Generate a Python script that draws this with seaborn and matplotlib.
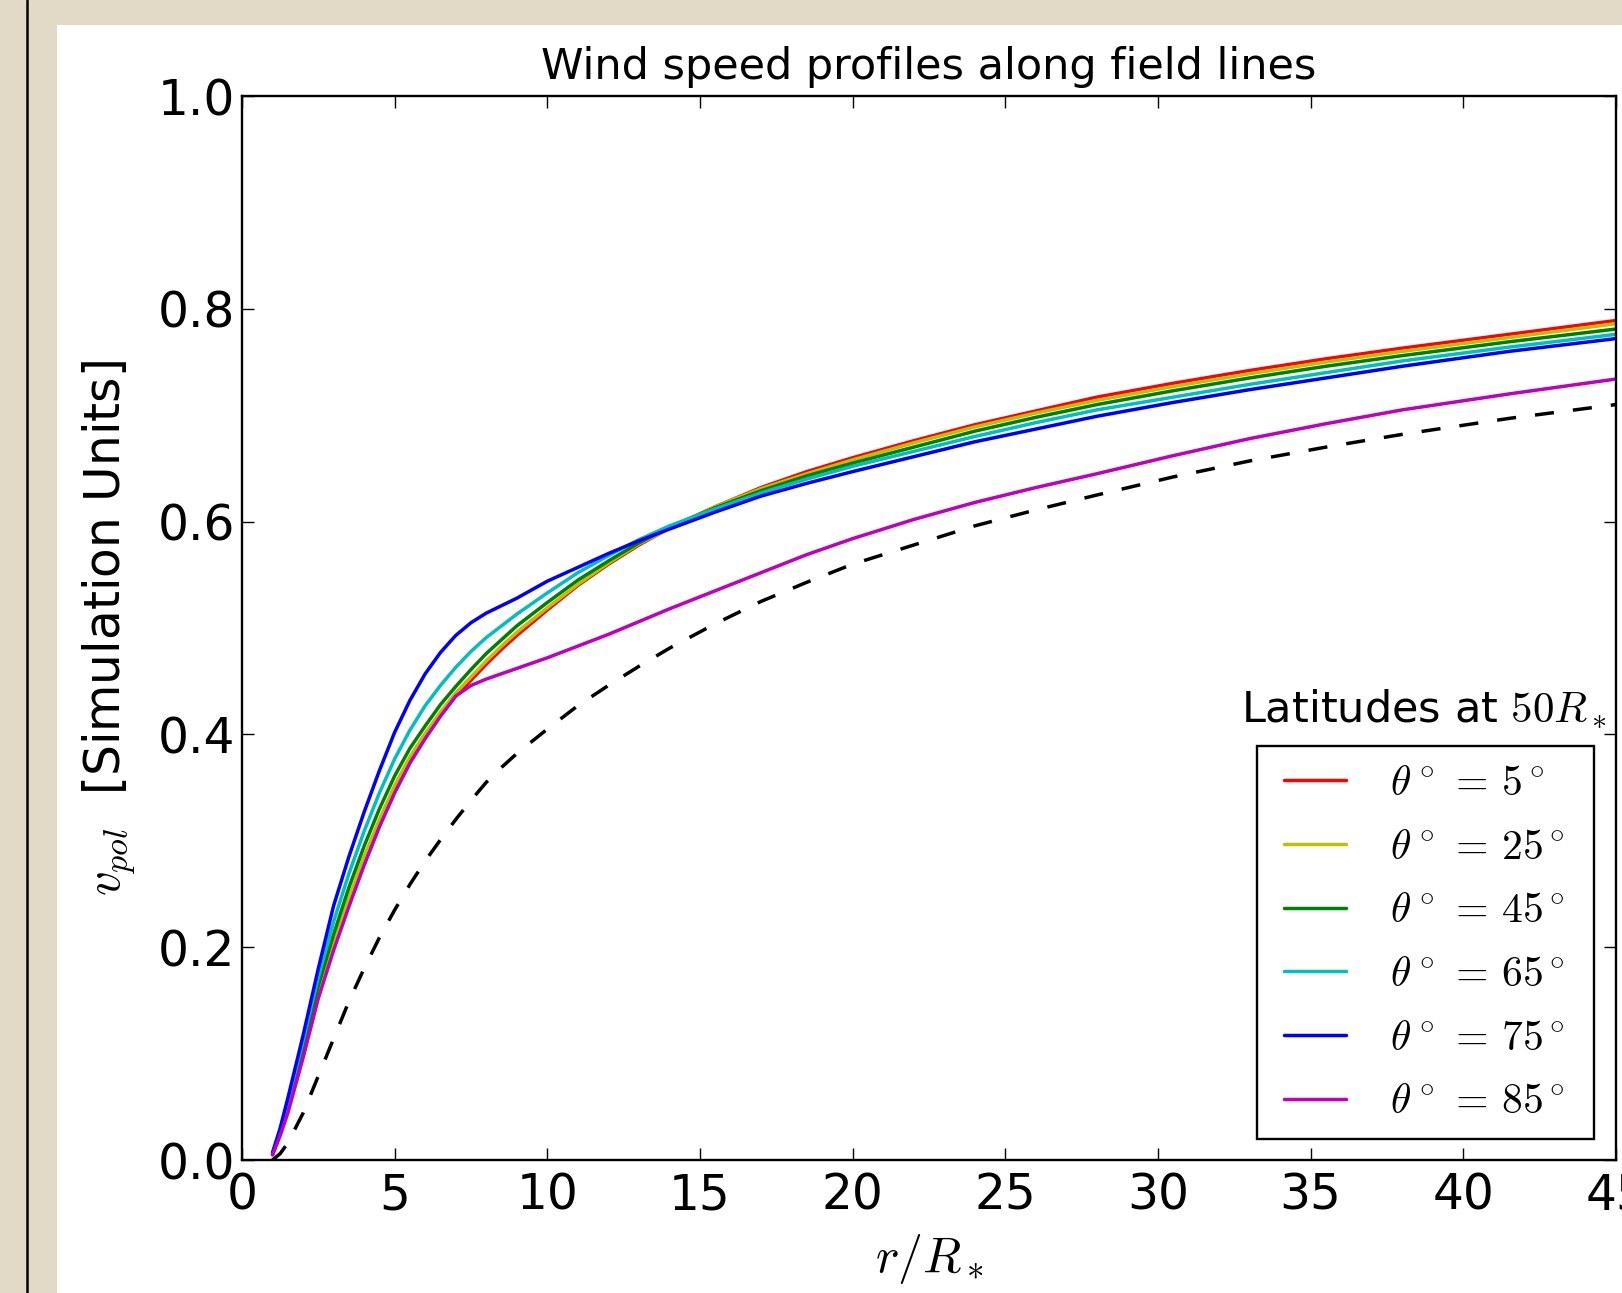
import matplotlib
matplotlib.use("Agg")

import matplotlib.pyplot as plt
from matplotlib.patches import Rectangle
from matplotlib.lines import Line2D
import pandas as pd
import seaborn as sns

# ── data (r / R_*, poloidal wind speed) ──
r_vals = [1, 1.25, 1.5, 2, 2.5, 3, 3.5, 4, 4.5, 5, 5.5, 6, 6.5, 7, 7.5, 8, 8.5, 9,
          10, 11, 12, 13, 14, 15.5, 17, 18.5, 20, 22, 24, 26, 28, 30.5, 33, 35.5, 38, 41.5, 45]

v_lat05 = [0.005, 0.024, 0.047, 0.099, 0.155, 0.200, 0.243, 0.282, 0.317, 0.349, 0.376,
           0.398, 0.418, 0.436, 0.451, 0.466, 0.480, 0.493, 0.517, 0.540, 0.560, 0.578,
           0.594, 0.614, 0.632, 0.647, 0.660, 0.676, 0.691, 0.704, 0.717, 0.730, 0.742,
           0.753, 0.763, 0.776, 0.789]
v_lat25 = [0.005, 0.025, 0.048, 0.101, 0.157, 0.203, 0.246, 0.285, 0.320, 0.352, 0.379,
           0.401, 0.421, 0.439, 0.454, 0.469, 0.483, 0.496, 0.519, 0.541, 0.561, 0.579,
           0.594, 0.614, 0.631, 0.645, 0.658, 0.674, 0.689, 0.702, 0.714, 0.727, 0.739,
           0.750, 0.760, 0.773, 0.786]
v_lat45 = [0.005, 0.026, 0.051, 0.106, 0.164, 0.212, 0.256, 0.295, 0.330, 0.361, 0.387,
           0.408, 0.428, 0.445, 0.461, 0.476, 0.489, 0.502, 0.524, 0.545, 0.563, 0.580,
           0.595, 0.613, 0.629, 0.643, 0.655, 0.670, 0.685, 0.698, 0.710, 0.723, 0.735,
           0.746, 0.756, 0.769, 0.781]
v_lat65 = [0.006, 0.028, 0.055, 0.112, 0.172, 0.224, 0.269, 0.309, 0.345, 0.377, 0.404,
           0.427, 0.446, 0.463, 0.478, 0.491, 0.502, 0.513, 0.533, 0.552, 0.568, 0.583,
           0.596, 0.612, 0.627, 0.640, 0.652, 0.666, 0.680, 0.693, 0.705, 0.717, 0.729,
           0.740, 0.751, 0.764, 0.776]
v_lat75 = [0.007, 0.030, 0.058, 0.117, 0.180, 0.239, 0.285, 0.327, 0.366, 0.402, 0.432,
           0.457, 0.477, 0.493, 0.505, 0.514, 0.521, 0.528, 0.544, 0.557, 0.570, 0.582,
           0.593, 0.609, 0.624, 0.636, 0.647, 0.661, 0.675, 0.687, 0.699, 0.712, 0.724,
           0.735, 0.746, 0.760, 0.772]
v_lat85 = [0.005, 0.023, 0.044, 0.096, 0.152, 0.197, 0.238, 0.277, 0.313, 0.345, 0.373,
           0.396, 0.417, 0.436, 0.446, 0.452, 0.457, 0.462, 0.472, 0.483, 0.494, 0.506,
           0.518, 0.535, 0.552, 0.569, 0.584, 0.602, 0.618, 0.632, 0.645, 0.662, 0.678,
           0.692, 0.705, 0.720, 0.734]
v_reference = [0.000, 0.006, 0.016, 0.044, 0.079, 0.114, 0.149, 0.180, 0.209, 0.235, 0.259,
               0.281, 0.301, 0.320, 0.338, 0.355, 0.369, 0.382, 0.405, 0.427, 0.446, 0.464,
               0.481, 0.504, 0.525, 0.543, 0.560, 0.578, 0.596, 0.611, 0.625, 0.642, 0.657,
               0.670, 0.682, 0.697, 0.710]

latitudes = [5, 25, 45, 65, 75, 85]
lat_series = [v_lat05, v_lat25, v_lat45, v_lat65, v_lat75, v_lat85]
# classic matplotlib single-letter colours r, y, g, c, b, m
lat_colors = ["#ff0000", "#bfbf00", "#008000", "#00bfbf", "#0000ff", "#bf00bf"]
lat_labels = [r"$\theta^\circ\,=\,%d^\circ$" % lat for lat in latitudes]

x_ticks = [0, 5, 10, 15, 20, 25, 30, 35, 40, 45]
y_ticks = [0.0, 0.2, 0.4, 0.6, 0.8, 1.0]

LW = 2.5

# ── style ──
sns.set_theme(style="white")
plt.rcParams.update({
    "font.family": ["DejaVu Sans"],
    "mathtext.fontset": "cm",
    "text.color": "black",
    "axes.labelcolor": "black",
    "axes.edgecolor": "black",
    "axes.linewidth": 1.7,
    "xtick.color": "black",
    "ytick.color": "black",
    "xtick.direction": "in",
    "ytick.direction": "in",
    "xtick.top": True,
    "ytick.right": True,
    "xtick.bottom": True,
    "ytick.left": True,
    "xtick.major.size": 8.5,
    "ytick.major.size": 8.5,
    "xtick.major.width": 1.0,
    "ytick.major.width": 1.0,
})

W, H = 1622, 1293
fig = plt.figure(figsize=(W / 100, H / 100), dpi=100, facecolor="#e2dac6")

# poster panel behind the plot
fig.add_artist(Rectangle((57 / W, 0), 1 - 57 / W, 1 - 25 / H, transform=fig.transFigure,
                         facecolor="white", edgecolor="none", zorder=0))
fig.add_artist(Line2D([27 / W, 27 / W], [0, 1], transform=fig.transFigure,
                      color="black", lw=1.8, zorder=1))

ax = fig.add_axes([242 / W, (H - 1160) / H, 1374 / W, 1064 / H])
ax.set_facecolor("white")

df = pd.DataFrame({
    "r": r_vals * len(latitudes),
    "v": [v for s in lat_series for v in s],
    "lat": [lab for lab in lat_labels for _ in r_vals],
})
sns.lineplot(data=df, x="r", y="v", hue="lat", hue_order=lat_labels,
             palette=lat_colors, estimator=None, sort=False, lw=LW,
             legend=False, ax=ax)
sns.lineplot(x=r_vals, y=v_reference, color="black", lw=LW, ax=ax, legend=False)
ax.lines[-1].set_dashes((5.5, 5.5))

ax.set_xlim(0, 45)
ax.set_ylim(0, 1.0)
ax.set_xticks(x_ticks)
ax.set_yticks(y_ticks)
ax.set_yticklabels([f"{t:.1f}" for t in y_ticks])
ax.tick_params(axis="both", labelsize=35)
ax.tick_params(axis="x", pad=8)
ax.tick_params(axis="y", pad=5)

ax.set_title("Wind speed profiles along field lines", fontsize=31, pad=12)
ax.set_xlabel(r"$r/R_*$", fontsize=36, labelpad=9)
ax.set_ylabel(r"$v_{pol}$  [Simulation Units]", fontsize=35)
ax.yaxis.set_label_coords(-0.076, 0.5)

# legend entries without frame, frame drawn as a box of its own
handles = [Line2D([], [], color=c, lw=LW) for c in lat_colors]
ax.legend(handles, lat_labels, loc="lower right", bbox_to_anchor=(0.984, 0.008),
          borderaxespad=0, fontsize=30, frameon=False, handlelength=1.5,
          handletextpad=1.05, labelspacing=0.52, borderpad=0.7)
ax.add_patch(Rectangle((0.7387, 0.0197), 0.9840 - 0.7387, 0.3891 - 0.0197,
                       transform=ax.transAxes, facecolor="white", edgecolor="black",
                       lw=1.7, zorder=4.5))

ax.text(0.9935, 0.4117, r"Latitudes at $50R_*$", transform=ax.transAxes,
        ha="right", va="baseline", fontsize=31)

fig.savefig("out.png", dpi=100, facecolor=fig.get_facecolor())
